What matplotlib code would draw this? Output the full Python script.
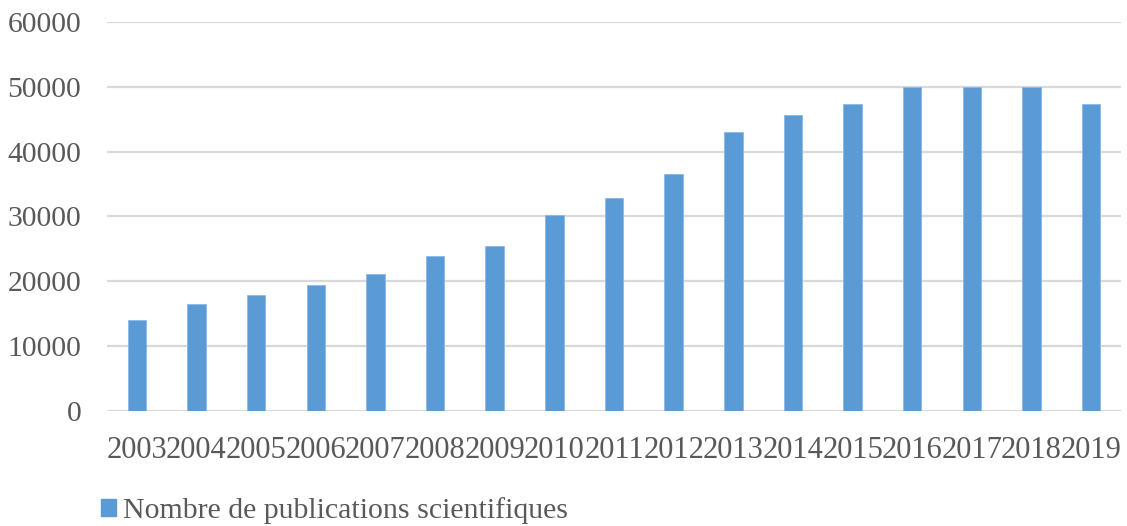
import matplotlib
matplotlib.use("Agg")
import matplotlib.pyplot as plt
from matplotlib.patches import Patch

years = ["2003", "2004", "2005", "2006", "2007", "2008", "2009", "2010", "2011",
         "2012", "2013", "2014", "2015", "2016", "2017", "2018", "2019"]
publications = [14000, 16450, 17900, 19500, 21200, 23900, 25400, 30200, 32900,
                36600, 43000, 45700, 47300, 50000, 50000, 50000, 47300]
series_name = "Nombre de publications scientifiques"
yticks = [0, 10000, 20000, 30000, 40000, 50000, 60000]

plt.rcParams['font.family'] = ['Liberation Serif', 'DejaVu Serif']

fig = plt.figure(figsize=(11.27, 5.26), dpi=100)
ax = fig.add_axes([107/1127, 1-411/526, (1121-107)/1127, (411-22)/526])

bar_color = "#5b9bd5"
x = range(len(years))
ax.bar(x, publications, width=0.31, color=bar_color, edgecolor="#8ab8e6", linewidth=0.6, zorder=3)

ax.set_xlim(-0.5, len(years) - 0.5)
ax.set_ylim(0, 60000)
ax.set_yticks(yticks)
ax.set_yticklabels([str(v) for v in yticks])
ax.set_xticks(list(x))
ax.set_xticklabels(years)

ax.grid(axis='y', color="#d9d9d9", linewidth=1.6, zorder=0)
ax.set_axisbelow(True)
for s in ax.spines.values():
    s.set_visible(False)
ax.tick_params(axis='both', length=0, colors="#595959")
ax.tick_params(axis='y', pad=18.5, labelsize=21.3)
ax.tick_params(axis='x', pad=18, labelsize=22)

handle = Patch(facecolor=bar_color, edgecolor=bar_color)
fig.legend([handle], [series_name], loc='center left',
           bbox_to_anchor=(101/1127, 1-511/526), frameon=False,
           fontsize=21.5, handlelength=0.5, handleheight=0.5, handletextpad=0.25,
           labelcolor="#595959", borderaxespad=0, borderpad=0)

fig.savefig("out.png", dpi=100)
